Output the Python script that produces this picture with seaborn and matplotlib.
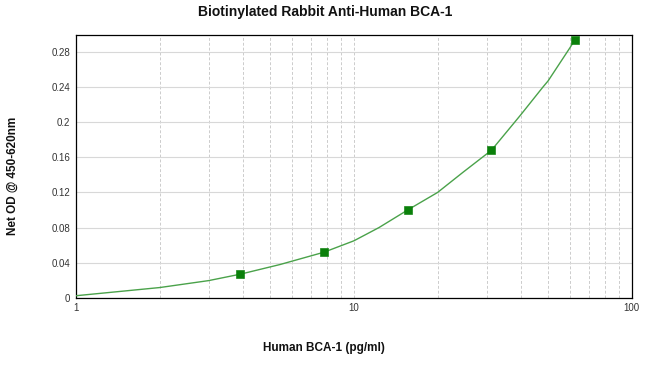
import numpy as np
import pandas as pd
import matplotlib
matplotlib.use('Agg')
import matplotlib.pyplot as plt
import seaborn as sns
from matplotlib.ticker import FixedLocator, NullFormatter

# standards (pg/ml) and net OD
conc = [3.9, 7.8, 15.6, 31.25, 62.5]
od = [0.027, 0.052, 0.100, 0.168, 0.294]

# fitted curve
curve_x = [1, 2, 3, 3.9, 5.42, 7.8, 10, 12.3, 15.6, 20, 24.7, 31.25,
           37.9, 40, 47.9, 50, 60, 62.5]
curve_y = [0.0025, 0.0118, 0.0197, 0.027, 0.038, 0.052, 0.065, 0.080, 0.100,
           0.120, 0.143, 0.168, 0.200, 0.209, 0.240, 0.247, 0.285, 0.294]

yticks = [0, 0.04, 0.08, 0.12, 0.16, 0.2, 0.24, 0.28]
ytick_labels = ['0', '0.04', '0.08', '0.12', '0.16', '0.2', '0.24', '0.28']

sns.set_style('white')
plt.rcParams['font.family'] = ['Liberation Sans', 'DejaVu Sans']

fig = plt.figure(figsize=(6.5, 3.66), dpi=100)
ax = fig.add_axes([0.117, 0.186, 0.855, 0.718])

pts = pd.DataFrame({'x': conc, 'y': od})
fit = pd.DataFrame({'x': curve_x, 'y': curve_y})

sns.lineplot(data=fit, x='x', y='y', ax=ax, color='#4aa24a', linewidth=1.0, zorder=3)
sns.scatterplot(data=pts, x='x', y='y', ax=ax, marker='s', s=30, color='#0a800a',
                edgecolor='#0a800a', zorder=4)

ax.set_xscale('log')
ax.set_xlim(1, 100)
ax.set_ylim(0, 0.299)

ax.set_yticks(yticks)
ax.set_yticklabels(ytick_labels)
ax.xaxis.set_major_locator(FixedLocator([1, 10, 100]))
ax.set_xticklabels(['1', '10', '100'])
ax.xaxis.set_minor_locator(FixedLocator([2, 3, 4, 5, 6, 7, 8, 9, 20, 30, 40, 50, 60, 70, 80, 90]))
ax.xaxis.set_minor_formatter(NullFormatter())

ax.grid(axis='y', color='#d8d8d8', linewidth=0.8, linestyle='-')
ax.grid(axis='x', which='both', color='#cccccc', linewidth=0.7, linestyle=(0, (3, 2)))
ax.set_axisbelow(True)

ax.tick_params(axis='both', which='both', length=0, labelsize=7, colors='#333333', pad=4)

for sp in ax.spines.values():
    sp.set_color('black')
    sp.set_linewidth(0.9)

ax.set_xlabel('')
ax.set_ylabel('')
fig.text(0.5, 0.967, 'Biotinylated Rabbit Anti-Human BCA-1', fontsize=10,
         fontweight='bold', color='#111111', ha='center', va='center')
fig.text(0.498, 0.049, 'Human BCA-1 (pg/ml)', fontsize=8.5, fontweight='bold',
         color='#111111', ha='center', va='center')
fig.text(0.019, 0.52, 'Net OD @ 450-620nm', fontsize=8.5, fontweight='bold',
         color='#111111', ha='center', va='center', rotation=90)

fig.savefig('out.png', dpi=100)
